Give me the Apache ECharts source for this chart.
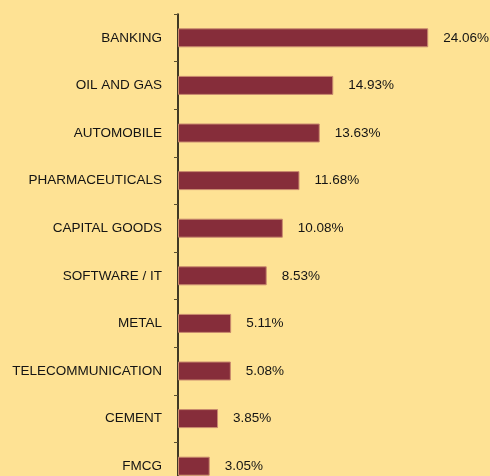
<!DOCTYPE html>
<html>
<head>
<meta charset="utf-8">
<style>
  html, body { margin: 0; padding: 0; background: #FEE294; }
  #chart { width: 490px; height: 476px; }
</style>
<script src="https://cdn.jsdelivr.net/npm/echarts@6/dist/echarts.min.js"></script>
</head>
<body>
<div id="chart"></div>
<script>
// Sector allocation (% of portfolio)
const sectors = [
  'BANKING', 'OIL AND GAS', 'AUTOMOBILE', 'PHARMACEUTICALS', 'CAPITAL GOODS',
  'SOFTWARE / IT', 'METAL', 'TELECOMMUNICATION', 'CEMENT', 'FMCG'
];
const weights = [24.06, 14.93, 13.63, 11.68, 10.08, 8.53, 5.11, 5.08, 3.85, 3.05];

const font = '"Liberation Sans", Arial, sans-serif';

const chart = echarts.init(document.getElementById('chart'), null, { renderer: 'canvas' });
chart.setOption({
  backgroundColor: '#FEE294',
  animation: false,
  grid: { left: 178, top: 14, width: 260, height: 476, containLabel: false, outerBoundsMode: 'none' },
  xAxis: {
    type: 'value', min: 0, max: 25, show: false
  },
  yAxis: {
    type: 'category',
    inverse: true,
    data: sectors,
    axisLine: { show: true, lineStyle: { color: '#000', width: 1.5 } },
    axisTick: { show: true, length: 4, lineStyle: { color: '#5a5030', width: 1 } },
    axisLabel: { color: '#141414', fontFamily: font, fontSize: 13.5, margin: 16 },
    splitLine: { show: false }
  },
  series: [{
    type: 'bar',
    data: weights,
    barWidth: 19,
    itemStyle: { color: '#862D3A', borderColor: '#C98A6E', borderWidth: 1 },
    label: {
      show: true, position: 'right', distance: 15,
      formatter: p => p.value.toFixed(2) + '%',
      color: '#141414', fontFamily: font, fontSize: 13.5
    }
  }]
});
</script>
</body>
</html>
